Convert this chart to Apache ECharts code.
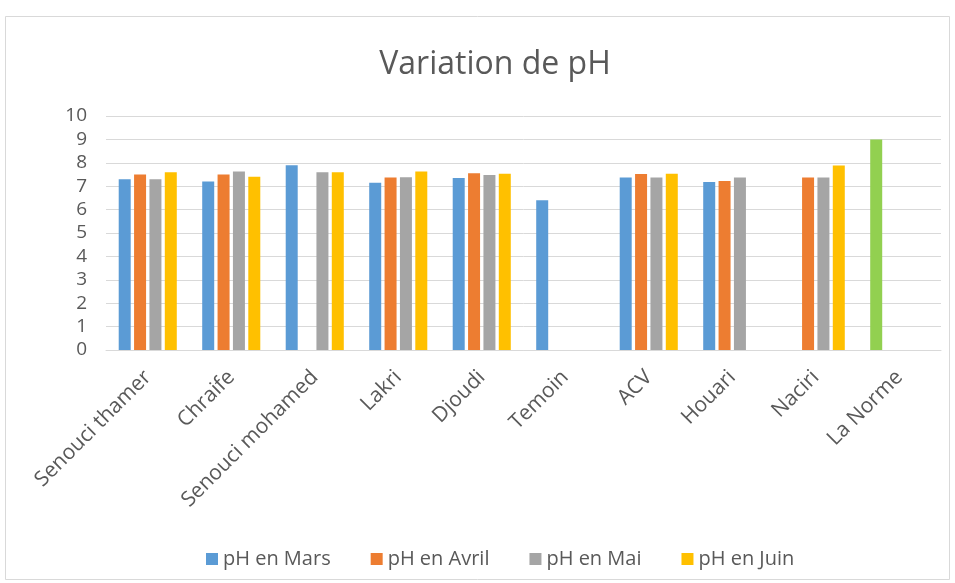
<!DOCTYPE html>
<html>
<head>
<meta charset="utf-8">
<script src="https://cdn.jsdelivr.net/npm/echarts@6/dist/echarts.min.js"></script>
<style>
html,body{margin:0;padding:0;background:#fff;}
#chart{width:955px;height:583px;}
</style>
</head>
<body>
<div id="chart"></div>
<script>
// sites
var sites = ["Senouci thamer","Chraife","Senouci mohamed","Lakri","Djoudi","Temoin","ACV","Houari","Naciri","La Norme"];
// valeurs de pH par mois (null = pas de mesure)
var phMars  = [7.3, 7.2, 7.9, 7.15, 7.35, 6.4, 7.37, 7.18, null, 9];
var phAvril = [7.5, 7.5, null, 7.37, 7.55, null, 7.52, 7.22, 7.37, null];
var phMai   = [7.3, 7.63, 7.6, 7.38, 7.48, null, 7.37, 7.37, 7.37, null];
var phJuin  = [7.6, 7.4, 7.6, 7.63, 7.53, null, 7.53, null, 7.88, null];
var yTicks  = [0,1,2,3,4,5,6,7,8,9,10];

var chart = echarts.init(document.getElementById('chart'));
var txt = '#595959';
var font = 'Open Sans';

// la norme en vert
var marsData = phMars.map(function(v,i){
	if(sites[i]=="La Norme"){
		return {value:v,itemStyle:{color:'#92D050'}};
	}
	return v;
});

function serie(nom,data,couleur){
	return {
		name:nom,
		type:'bar',
		data:data,
		barWidth:12,
		barGap:'28%',
		itemStyle:{color:couleur},
		emphasis:{disabled:true}
	};
}

var option = {
	backgroundColor:'#fff',
	animation:false,
	title:{
		text:'Variation de pH',
		left:490,
		top:44,
		textAlign:'center',
		textStyle:{color:txt,fontFamily:font,fontSize:32,fontWeight:'normal'}
	},
	graphic:[{
		type:'rect',
		shape:{x:5.5,y:16.5,width:944,height:563},
		style:{fill:null,stroke:'#d9d9d9',lineWidth:1},
		silent:true
	}],
	grid:{left:106,right:14,top:116,bottom:233},
	legend:{
		top:544,
		left:201,
		itemWidth:12,
		itemHeight:12,
		itemGap:40,
		icon:'rect',
		textStyle:{color:txt,fontFamily:font,fontSize:20},
		data:['pH en Mars','pH en Avril','pH en Mai','pH en Juin']
	},
	xAxis:{
		type:'category',
		data:sites,
		axisLine:{lineStyle:{color:'#d9d9d9'}},
		axisTick:{show:false},
		axisLabel:{rotate:45,interval:0,color:txt,fontFamily:font,fontSize:21,margin:24}
	},
	yAxis:{
		type:'value',
		min:yTicks[0],
		max:yTicks[yTicks.length-1],
		interval:1,
		axisLine:{show:false},
		axisTick:{show:false},
		splitLine:{lineStyle:{color:'#d9d9d9'}},
		axisLabel:{color:txt,fontFamily:font,fontSize:19,margin:19}
	},
	series:[
		serie('pH en Mars',marsData,'#5B9BD5'),
		serie('pH en Avril',phAvril,'#ED7D31'),
		serie('pH en Mai',phMai,'#A5A5A5'),
		serie('pH en Juin',phJuin,'#FFC000')
	]
};
chart.setOption(option);
</script>
</body>
</html>
